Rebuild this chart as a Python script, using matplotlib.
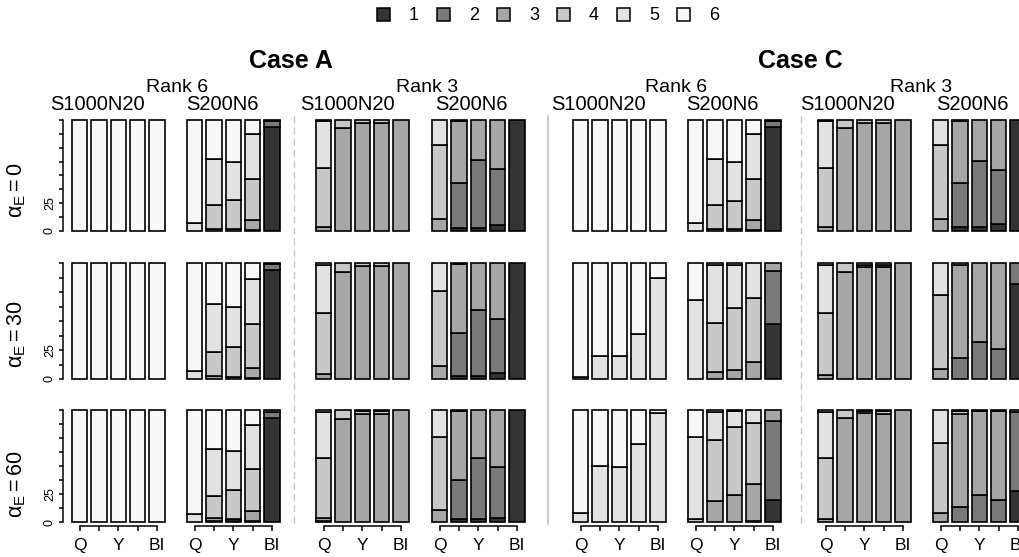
import matplotlib
matplotlib.use('Agg')
import numpy as np
import matplotlib.pyplot as plt
from matplotlib.patches import Patch
from matplotlib.lines import Line2D

plt.rcParams['font.family'] = ['Liberation Sans', 'DejaVu Sans']
plt.rcParams['mathtext.fontset'] = 'custom'
plt.rcParams['mathtext.rm'] = 'Liberation Sans'
plt.rcParams['mathtext.it'] = 'Liberation Sans:italic'

# ---- data: percentage of each rank class (1..6) per bar, 5 methods per panel ----
classes = ['1', '2', '3', '4', '5', '6']
colors = ['#333333', '#7a7a7a', '#a6a6a6', '#c8c8c8', '#e2e2e2', '#f8f8f8']
methods = ['Q', '', 'Y', '', 'BI']
cases = ['Case A', 'Case C']
ranks = ['Rank 6', 'Rank 3']
designs = ['S1000N20', 'S200N6']
alphas = ['0', '30', '60']

# panels per row: [R6 S1000N20, R6 S200N6, R3 S1000N20, R3 S200N6]
caseA_alpha0 = [
    [[0, 0, 0, 0, 0, 100], [0, 0, 0, 0, 0, 100], [0, 0, 0, 0, 0, 100], [0, 0, 0, 0, 0, 100], [0, 0, 0, 0, 0, 100]],
    [[0, 0, 0, 0, 7, 93], [0, 0, 2, 21, 42, 35], [0, 0, 1.5, 26, 35, 37.5], [0, 1, 9, 37, 40, 13], [94, 5, 1, 0, 0, 0]],
    [[0, 0, 4, 53, 42, 1], [0, 0, 93, 7, 0, 0], [0, 0, 97.5, 2.5, 0, 0], [0, 0, 97.5, 2.5, 0, 0], [0, 0, 100, 0, 0, 0]],
    [[0, 0, 11, 66.5, 22.5, 0], [3, 40.5, 55.5, 1, 0, 0], [3, 61, 36, 0, 0, 0], [5, 50.5, 44.5, 0, 0, 0], [100, 0, 0, 0, 0, 0]],
]
caseA_alpha30 = [
    [[0, 0, 0, 0, 0, 100], [0, 0, 0, 0, 0, 100], [0, 0, 0, 0, 0, 100], [0, 0, 0, 0, 0, 100], [0, 0, 0, 0, 0, 100]],
    [[0, 0, 0, 0, 7, 93], [0, 0, 3, 20, 42, 35], [0, 0, 2, 26, 34.5, 37.5], [0, 0.5, 9, 38, 39, 13.5], [94, 5, 1, 0, 0, 0]],
    [[0, 0, 4, 53, 41.5, 1.5], [0, 0, 92, 8, 0, 0], [0, 0, 97, 3, 0, 0], [0, 0, 97, 3, 0, 0], [0, 0, 100, 0, 0, 0]],
    [[0, 0, 11, 65, 24, 0], [3, 37, 59, 1, 0, 0], [3, 56.5, 40.5, 0, 0, 0], [5, 46.5, 48.5, 0, 0, 0], [100, 0, 0, 0, 0, 0]],
]
caseA_alpha60 = [
    [[0, 0, 0, 0, 0, 100], [0, 0, 0, 0, 0, 100], [0, 0, 0, 0, 0, 100], [0, 0, 0, 0, 0, 100], [0, 0, 0, 0, 0, 100]],
    [[0, 0, 0, 0, 7.5, 92.5], [0, 1, 2.5, 20, 42, 34.5], [0, 1, 2, 26, 34, 37], [0, 1, 9, 37.5, 39.5, 13], [92.5, 5.5, 2, 0, 0, 0]],
    [[0, 1, 2.5, 53.5, 41.5, 1.5], [0, 0, 92, 8, 0, 0], [0, 0, 96.5, 2.5, 1, 0], [0, 0, 96.5, 2.5, 1, 0], [0, 0, 100, 0, 0, 0]],
    [[0, 0, 10.5, 65, 24.5, 0], [2.5, 35, 61.5, 1, 0, 0], [3, 54, 43, 0, 0, 0], [4, 45, 51, 0, 0, 0], [100, 0, 0, 0, 0, 0]],
]
caseC_alpha0 = [
    [[0, 0, 0, 0, 0, 100], [0, 0, 0, 0, 0, 100], [0, 0, 0, 0, 0, 100], [0, 0, 0, 0, 0, 100], [0, 0, 0, 0, 0, 100]],
    [[0, 0, 0, 0, 7, 93], [0, 0, 2, 21.5, 41.5, 35], [0, 0, 1.5, 25.5, 35.5, 37.5], [0, 1, 9, 37, 40, 13], [94, 5, 1, 0, 0, 0]],
    [[0, 0, 4, 53, 42, 1], [0, 0, 93, 7, 0, 0], [0, 0, 97.5, 2.5, 0, 0], [0, 0, 97.5, 2.5, 0, 0], [0, 0, 100, 0, 0, 0]],
    [[0, 0, 11, 66.5, 22.5, 0], [4, 39.5, 55.5, 1, 0, 0], [4, 59, 37, 0, 0, 0], [6, 49, 45, 0, 0, 0], [100, 0, 0, 0, 0, 0]],
]
caseC_alpha30 = [
    [[0, 0, 0, 0, 1.5, 98.5], [0, 0, 0, 0, 20, 80], [0, 0, 0, 0, 20, 80], [0, 0, 0, 0, 38.5, 61.5], [0, 0, 0, 0, 87, 13]],
    [[0, 0, 0, 0, 68.5, 31.5], [0, 0, 6, 42, 50, 2], [0, 0, 7.5, 54, 37, 1.5], [0, 0, 14.5, 55, 30.5, 0], [47.5, 45.5, 7, 0, 0, 0]],
    [[0, 0, 3.5, 53, 42, 1.5], [0, 0, 92, 8, 0, 0], [0, 0, 96.5, 2, 1.5, 0], [0, 0, 96.5, 2, 1.5, 0], [0, 0, 100, 0, 0, 0]],
    [[0, 0, 9, 63, 28, 0], [0, 18, 80.5, 1.5, 0, 0], [0, 31.5, 68.5, 0, 0, 0], [0, 25.5, 74.5, 0, 0, 0], [82, 18, 0, 0, 0, 0]],
]
caseC_alpha60 = [
    [[0, 0, 0, 0, 8, 92], [0, 0, 0, 0, 50, 50], [0, 0, 0, 0, 49.5, 50.5], [0, 0, 0, 0, 70, 30], [0, 0, 0, 0, 97.5, 2.5]],
    [[0, 0, 0, 2.5, 73.5, 24], [0, 0, 19, 54.5, 25, 1.5], [0, 0, 24.5, 60.5, 14, 1], [0, 1, 33, 54.5, 11.5, 0], [20, 70.5, 9.5, 0, 0, 0]],
    [[0, 0, 3, 54.5, 41, 1.5], [0, 0, 92.5, 7.5, 0, 0], [0, 0, 97, 2, 1, 0], [0, 0, 96.5, 2.5, 1, 0], [0, 0, 100, 0, 0, 0]],
    [[0, 0, 8, 62.5, 29.5, 0], [0, 13, 83.5, 2.5, 1, 0], [0, 24.5, 74.5, 1, 0, 0], [0, 19.5, 79.5, 1, 0, 0], [27.5, 70.5, 2, 0, 0, 0]],
]

rows = [[caseA_alpha0, caseC_alpha0],
        [caseA_alpha30, caseC_alpha30],
        [caseA_alpha60, caseC_alpha60]]

# ---- layout (pixels of a 1019x557 canvas) ----
W, H = 1019, 557
fig = plt.figure(figsize=(W / 100, H / 100), dpi=100)


def fx(px):
    return px / W


def fy(py):
    return 1 - py / H


panel_left = [72, 187, 316, 432, 573, 688, 818, 933]
row_top = [120, 263, 410]
row_bottom = [231, 379, 522]
pitch = 19.3
bar_w = 0.8

for r in range(3):
    for c in range(2):
        for k in range(4):
            i = c * 4 + k
            left = panel_left[i] - 0.1 * pitch
            ax = fig.add_axes([fx(left), fy(row_bottom[r]), 5 * pitch / W,
                               (row_bottom[r] - row_top[r]) / H])
            ax.patch.set_visible(False)
            vals = np.array(rows[r][c][k], dtype=float)
            x = np.arange(len(methods))
            bottom = np.zeros(len(methods))
            for j in range(len(classes)):
                h = vals[:, j]
                mask = h > 0
                ax.bar(x[mask], h[mask], bar_w, bottom=bottom[mask], color=colors[j],
                       edgecolor='black', linewidth=1.2, clip_on=False)
                bottom += h
            ax.set_xlim(-0.5, 4.5)
            ax.set_ylim(0, 100)
            for s in ax.spines.values():
                s.set_visible(False)
            ax.set_xticks([])
            ax.set_yticks([])

            if i == 0:
                ax.spines['left'].set_visible(True)
                ax.spines['left'].set_position(('outward', 4.75))
                ax.spines['left'].set_bounds(0, 100)
                ax.spines['left'].set_linewidth(1.1)
                ax.set_yticks(np.arange(0, 101, 12.5))
                ax.set_yticklabels(['0', '', '25', '', '', '', '', '', ''])
                ax.tick_params(axis='y', length=3, width=1.1, pad=2.5, labelsize=9)
                for t in ax.get_yticklabels():
                    t.set_rotation(90)
                    t.set_va('center')
            if r == 2:
                ax.spines['bottom'].set_visible(True)
                ax.spines['bottom'].set_position(('outward', 3))
                ax.spines['bottom'].set_bounds(0, 4)
                ax.spines['bottom'].set_linewidth(1.1)
                ax.set_xticks(x)
                ax.set_xticklabels(methods)
                ax.tick_params(axis='x', length=3.5, width=1.1, pad=5, labelsize=12.5)

# separators
for xp in [294, 801]:
    fig.add_artist(Line2D([fx(xp), fx(xp)], [fy(116), fy(526)], color='#c8c8c8',
                          lw=1.0, linestyle=(0, (5, 3))))
fig.add_artist(Line2D([fx(548), fx(548)], [fy(116), fy(524)], color='#cccccc', lw=1.5))

# headings
case_x = [291, 800]
rank_x = [177, 427, 676, 921]
design_x = [97, 222, 347, 471, 598, 722, 847, 972]
for c, name in enumerate(cases):
    fig.text(fx(case_x[c]), fy(61), name, ha='center', va='center',
             fontsize=18, fontweight='bold')
for j, xp in enumerate(rank_x):
    fig.text(fx(xp), fy(87), ranks[j % 2], ha='center', va='center', fontsize=14)
for j, xp in enumerate(design_x):
    fig.text(fx(xp), fy(105), designs[j % 2], ha='center', va='center', fontsize=14.5)

alpha_y = [190, 334, 484]
for r, a in enumerate(alphas):
    fig.text(fx(17), fy(alpha_y[r]), r'$\mathrm{\alpha_E = ' + a + '}$', rotation=90,
             ha='center', va='center', fontsize=15.5)

handles = [Patch(facecolor=col, edgecolor='black', linewidth=1.1) for col in colors]
fig.legend(handles, classes, loc='center', bbox_to_anchor=(fx(548), fy(16)), ncol=6,
           frameon=False, fontsize=13, handlelength=0.72, handleheight=0.72,
           handletextpad=1.05, columnspacing=1.0)

fig.savefig('out.png', dpi=100)
